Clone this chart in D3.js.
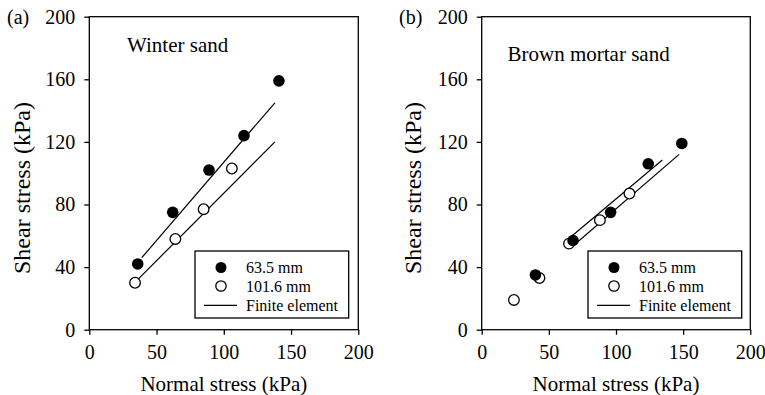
<!DOCTYPE html>
<html>
<head>
<meta charset="utf-8">
<script src="https://cdn.jsdelivr.net/npm/d3@7"></script>
<style>
  html, body { margin: 0; padding: 0; background: #fff; }
  svg { display: block; }
</style>
</head>
<body>
<svg id="chart" width="765" height="395"></svg>
<script>
// ---- Data ----
const xTicks = [0, 50, 100, 150, 200];
const yTicks = [0, 40, 80, 120, 160, 200];
const legendLabels = ["63.5 mm", "101.6 mm", "Finite element"];

// Panel (a) Winter sand
const winter635 = [[36, 42], [62, 75], [89, 102], [115, 124], [141, 159]];
const winter1016 = [[34, 30], [64, 58], [85, 77], [106, 103]];
const winterFE635 = [[39, 46], [138, 145]];
const winterFE1016 = [[36, 32], [138, 120]];

// Panel (b) Brown mortar sand
const brown635 = [[40, 35], [68, 57], [96, 75], [124, 106], [149, 119]];
const brown1016 = [[24, 19], [43, 33], [65, 55], [88, 70], [110, 87]];
const brownFE635 = [[64.5, 58], [134.5, 108.4]];
const brownFE1016 = [[66, 52], [147, 112]];

const FONT = "'Liberation Serif'";

const panels = [
  { tag: "(a)", title: "Winter sand", x0: 89.3, x1: 358.3, titleX: 127, titleY: 52,
    filled: winter635, open: winter1016, lines: [winterFE635, winterFE1016],
    legend: { x: 195, y: 251, w: 153.7, h: 67 }, tagX: 7, ylabX: 30 },
  { tag: "(b)", title: "Brown mortar sand", x0: 481.7, x1: 750.3, titleX: 507.5, titleY: 61,
    filled: brown635, open: brown1016, lines: [brownFE635, brownFE1016],
    legend: { x: 588, y: 251, w: 153.7, h: 67 }, tagX: 399, ylabX: 421 }
];

const yTop = 16.7, yBot = 329.7;
const svg = d3.select("#chart");

function txt(sel, size) {
  return sel.attr("font-family", null).style("font-family", FONT)
    .style("font-size", size + "px").style("font-weight", "normal").attr("fill", "#000");
}

panels.forEach(p => {
  const x = d3.scaleLinear().domain([0, 200]).range([p.x0, p.x1]);
  const y = d3.scaleLinear().domain([0, 200]).range([yBot, yTop]);
  const g = svg.append("g");

  // frame
  g.append("rect")
    .attr("x", x(0)).attr("y", y(200))
    .attr("width", x(200) - x(0)).attr("height", y(0) - y(200))
    .attr("fill", "none").attr("stroke", "#000").attr("stroke-width", 1.3);

  // x axis
  const xAxis = d3.axisBottom(x).tickValues(xTicks).tickSize(5).tickPadding(10).tickFormat(d3.format("d"));
  const xg = g.append("g").attr("transform", `translate(0,${yBot})`).call(xAxis);
  xg.attr("font-family", null).attr("font-size", null);
  xg.select(".domain").remove();
  xg.selectAll("line").attr("stroke", "#000").attr("stroke-width", 1.3);
  txt(xg.selectAll("text"), 20);

  // y axis
  const yAxis = d3.axisLeft(y).tickValues(yTicks).tickSize(5).tickPadding(9).tickFormat(d3.format("d"));
  const yg = g.append("g").attr("transform", `translate(${p.x0},0)`).call(yAxis);
  yg.attr("font-family", null).attr("font-size", null);
  yg.select(".domain").remove();
  yg.selectAll("line").attr("stroke", "#000").attr("stroke-width", 1.3);
  txt(yg.selectAll("text"), 20);

  // axis labels
  txt(g.append("text")
    .attr("x", (x(0) + x(200)) / 2).attr("y", 391)
    .attr("text-anchor", "middle"), 21)
    .text("Normal stress (kPa)");
  txt(g.append("text")
    .attr("transform", `translate(${p.ylabX},${188}) rotate(-90)`)
    .attr("text-anchor", "middle"), 24)
    .text("Shear stress (kPa)");

  // panel tag
  txt(g.append("text").attr("x", p.tagX).attr("y", 24), 20).text(p.tag);

  // title
  txt(g.append("text").attr("x", p.titleX).attr("y", p.titleY), 21).text(p.title);

  // FE lines
  const line = d3.line().x(d => x(d[0])).y(d => y(d[1]));
  p.lines.forEach(l => {
    g.append("path").datum(l).attr("d", line)
      .attr("fill", "none").attr("stroke", "#000").attr("stroke-width", 1.2);
  });

  // points
  g.selectAll(null).data(p.open).enter().append("circle")
    .attr("cx", d => x(d[0])).attr("cy", d => y(d[1])).attr("r", 5.3)
    .attr("fill", "#fff").attr("stroke", "#000").attr("stroke-width", 1.3);
  g.selectAll(null).data(p.filled).enter().append("circle")
    .attr("cx", d => x(d[0])).attr("cy", d => y(d[1])).attr("r", 5.8)
    .attr("fill", "#000");

  // legend
  const L = p.legend;
  const lg = g.append("g");
  lg.append("rect").attr("x", L.x).attr("y", L.y).attr("width", L.w).attr("height", L.h)
    .attr("fill", "#fff").attr("stroke", "#000").attr("stroke-width", 1.3);
  const rowY = [L.y + 16.5, L.y + 35, L.y + 54.3];
  const mx = L.x + 26;
  lg.append("circle").attr("cx", mx).attr("cy", rowY[0]).attr("r", 5.5).attr("fill", "#000");
  lg.append("circle").attr("cx", mx).attr("cy", rowY[1]).attr("r", 5.2)
    .attr("fill", "#fff").attr("stroke", "#000").attr("stroke-width", 1.3);
  lg.append("line").attr("x1", L.x + 9).attr("x2", L.x + 42).attr("y1", rowY[2]).attr("y2", rowY[2])
    .attr("stroke", "#000").attr("stroke-width", 1.2);
  legendLabels.forEach((t, i) => {
    txt(lg.append("text").attr("x", L.x + 51).attr("y", rowY[i] + 5.5), 16).text(t);
  });
});
</script>
</body>
</html>
